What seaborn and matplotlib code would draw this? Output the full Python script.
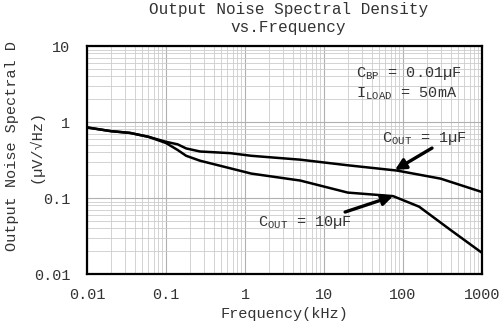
import matplotlib
matplotlib.use("Agg")
import matplotlib.pyplot as plt
import seaborn as sns
import pandas as pd
from matplotlib.ticker import LogLocator, FixedLocator, FixedFormatter, NullFormatter

freq_1uF = [0.01, 0.02, 0.035, 0.06, 0.1, 0.14, 0.18, 0.27, 0.65, 1.2, 5, 20, 84, 300, 1000]
nsd_1uF = [0.85, 0.76, 0.72, 0.64, 0.55, 0.51, 0.45, 0.41, 0.39, 0.36, 0.32, 0.27, 0.23, 0.18, 0.12]

freq_10uF = [0.01, 0.02, 0.035, 0.06, 0.1, 0.14, 0.18, 0.27, 1.2, 5, 12, 20, 75, 160, 400, 1000]
nsd_10uF = [0.85, 0.76, 0.72, 0.64, 0.53, 0.43, 0.36, 0.31, 0.21, 0.17, 0.135, 0.118, 0.106, 0.077, 0.038, 0.019]

x_ticks = [0.01, 0.1, 1, 10, 100, 1000]
x_labels = ["0.01", "0.1", "1", "10", "100", "1000"]
y_ticks = [0.01, 0.1, 1, 10]
y_labels = ["0.01", "0.1", "1", "10"]

sns.set_style("white")
plt.rcParams['font.family'] = ['Liberation Mono', 'DejaVu Sans Mono']
plt.rcParams['mathtext.default'] = 'regular'

TXT = "#333333"

df = pd.concat([
    pd.DataFrame({"freq": freq_1uF, "nsd": nsd_1uF, "cap": "1uF"}),
    pd.DataFrame({"freq": freq_10uF, "nsd": nsd_10uF, "cap": "10uF"}),
])

fig = plt.figure(figsize=(5, 3.27), dpi=100)
ax = fig.add_axes([0.174, 0.162, 0.79, 0.697])
sns.lineplot(data=df, x="freq", y="nsd", hue="cap", palette=["black", "black"],
             linewidth=1.8, legend=False, ax=ax, sort=False)
ax.set_xscale("log")
ax.set_yscale("log")
ax.set_xlim(0.01, 1000)
ax.set_ylim(0.01, 10)

ax.xaxis.set_major_locator(FixedLocator(x_ticks))
ax.xaxis.set_major_formatter(FixedFormatter(x_labels))
ax.yaxis.set_major_locator(FixedLocator(y_ticks))
ax.yaxis.set_major_formatter(FixedFormatter(y_labels))
ax.xaxis.set_minor_locator(LogLocator(base=10, subs=range(2, 10), numticks=20))
ax.yaxis.set_minor_locator(LogLocator(base=10, subs=range(2, 10), numticks=20))
ax.xaxis.set_minor_formatter(NullFormatter())
ax.yaxis.set_minor_formatter(NullFormatter())
ax.grid(which="major", color="#b0b0b0", linewidth=0.8)
ax.grid(which="minor", color="#cccccc", linewidth=0.6)
ax.tick_params(which="both", length=0, labelsize=11, colors=TXT)
ax.tick_params(axis="x", pad=10)
ax.tick_params(axis="y", pad=12)
for s in ax.spines.values():
    s.set_color("black")
    s.set_linewidth(1.6)

ax.set_xlabel("Frequency(kHz)", fontsize=11, color=TXT, labelpad=4)
ax.set_ylabel("Output Noise Spectral D\n(µV/√Hz)", fontsize=11, color=TXT, linespacing=1.8)
ax.yaxis.set_label_coords(-0.11, 0.56)
fig.text(0.577, 0.995, "Output Noise Spectral Density\nvs.Frequency", ha="center", va="top",
         fontsize=11.5, color=TXT, linespacing=1.25)

ax.text(0.681, 0.882, "C$_{BP}$ = 0.01µF", transform=ax.transAxes, fontsize=11, color=TXT, va="center")
ax.text(0.681, 0.789, "I$_{LOAD}$ = 50mA", transform=ax.transAxes, fontsize=11, color=TXT, va="center")
ax.text(54, 0.6, "C$_{OUT}$ = 1µF", fontsize=11, color=TXT, va="center", ha="left")
ax.text(1.46, 0.048, "C$_{OUT}$ = 10µF", fontsize=11, color=TXT, va="center", ha="left")
ax.annotate("", xy=(79, 0.234), xytext=(233, 0.455),
            arrowprops=dict(arrowstyle="-|>", color="black", lw=2.4, shrinkA=0, shrinkB=0, mutation_scale=16))
ax.annotate("", xy=(75, 0.106), xytext=(18.5, 0.0655),
            arrowprops=dict(arrowstyle="-|>", color="black", lw=2.4, shrinkA=0, shrinkB=0, mutation_scale=16))

fig.savefig("out.png", dpi=100)
